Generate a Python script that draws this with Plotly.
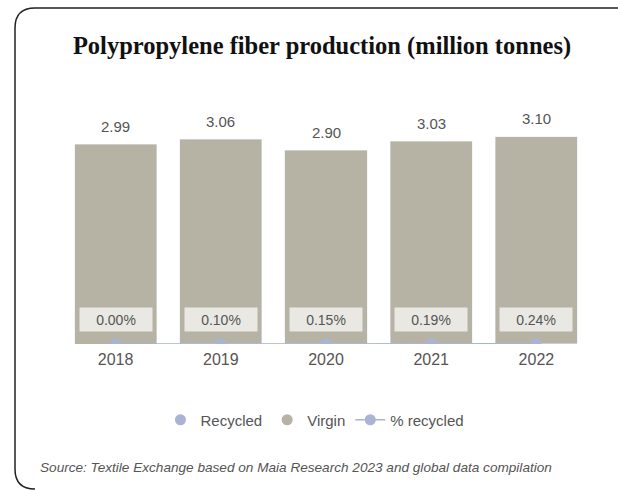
import plotly.graph_objects as go

years = ["2018", "2019", "2020", "2021", "2022"]
total = [2.99, 3.06, 2.90, 3.03, 3.10]
pct_recycled = [0.00, 0.10, 0.15, 0.19, 0.24]
recycled = [round(t * p / 100, 5) for t, p in zip(total, pct_recycled)]
virgin = [round(t - r, 5) for t, r in zip(total, recycled)]
total_labels = ["2.99", "3.06", "2.90", "3.03", "3.10"]
pct_labels = ["0.00%", "0.10%", "0.15%", "0.19%", "0.24%"]
xpos = list(range(len(years)))

C_REC = "#a9b3d4"
C_VIR = "#b6b2a4"
C_TXT = "#555555"

W, H = 618, 490
L, R, T, B = 63, 29, 90, 146
pw, ph = W - L - R, H - T - B

def px(x):
    return (x - L) / pw

def py(y):
    return (H - B - y) / ph

fig = go.Figure()
fig.add_trace(go.Bar(x=xpos, y=recycled, marker_color=C_REC, name="Recycled",
                     showlegend=False))
fig.add_trace(go.Bar(x=xpos, y=virgin, marker_color=C_VIR, name="Virgin",
                     showlegend=False))
fig.add_trace(go.Scatter(x=xpos, y=[p / 100 for p in pct_recycled], mode="lines+markers",
                         line=dict(color=C_REC, width=1.5), marker=dict(size=11, color=C_REC),
                         name="% recycled", legendrank=3, cliponaxis=True))
fig.add_trace(go.Scatter(x=[None], y=[None], mode="markers", marker=dict(size=11, color=C_REC),
                         name="Recycled", legendrank=1))
fig.add_trace(go.Scatter(x=[None], y=[None], mode="markers", marker=dict(size=11, color=C_VIR),
                         name="Virgin", legendrank=2))

for xi, t, lab in zip(xpos, total, total_labels):
    fig.add_annotation(x=xi, y=t, text=lab, showarrow=False, yshift=18,
                       font=dict(size=15, color=C_TXT, family="Liberation Sans"))
for xi, lab in zip(xpos, pct_labels):
    fig.add_annotation(x=xi, y=0, text=lab, showarrow=False, yshift=25,
                       width=70, height=21, bgcolor="#e9e8e3",
                       font=dict(size=14, color=C_TXT, family="Liberation Sans"))

fig.add_annotation(xref="paper", yref="paper", x=px(38), y=py(467), xanchor="left", yanchor="middle",
                   text="<i>Source: Textile Exchange based on Maia Research 2023 and global data compilation</i>",
                   showarrow=False, font=dict(size=13.6, color=C_TXT, family="Liberation Sans"))

fig.update_layout(
    width=W, height=H, margin=dict(l=L, r=R, t=T, b=B),
    barmode="stack", bargap=0.22,
    paper_bgcolor="white", plot_bgcolor="white",
    title=dict(text="<b>Polypropylene fiber production (million tonnes)</b>", x=322 / W, xanchor="center",
               y=1 - 45 / H, yanchor="middle", yref="container", xref="container",
               font=dict(family="Liberation Serif", size=24.5, color="#111")),
    xaxis=dict(range=[-0.5, len(years) - 0.5], tickmode="array", tickvals=xpos, ticktext=years,
               showgrid=False, showline=False, zeroline=False, ticks="", ticklabelstandoff=4,
               tickfont=dict(size=16, color=C_TXT, family="Liberation Sans")),
    yaxis=dict(range=[0, 3.8], visible=False),
    legend=dict(orientation="h", x=0.479, xanchor="center", y=py(420), yanchor="middle",
                traceorder="normal", itemwidth=30,
                font=dict(size=15, color=C_TXT, family="Liberation Sans")),
    showlegend=True,
)

# card border
x0, y0, yb, x1, r = 15, 8, 489, 618, 20
path = (f"M {px(x1)},{py(y0)} L {px(x0 + r)},{py(y0)} Q {px(x0)},{py(y0)} {px(x0)},{py(y0 + r)} "
        f"L {px(x0)},{py(yb - r)} Q {px(x0)},{py(yb)} {px(x0 + r)},{py(yb)}")
fig.add_shape(type="path", path=path, xref="paper", yref="paper", line=dict(color="#222", width=1.5))

fig.write_html("out.html", config={"displayModeBar": False},
               post_script="document.body.style.margin='0';")
